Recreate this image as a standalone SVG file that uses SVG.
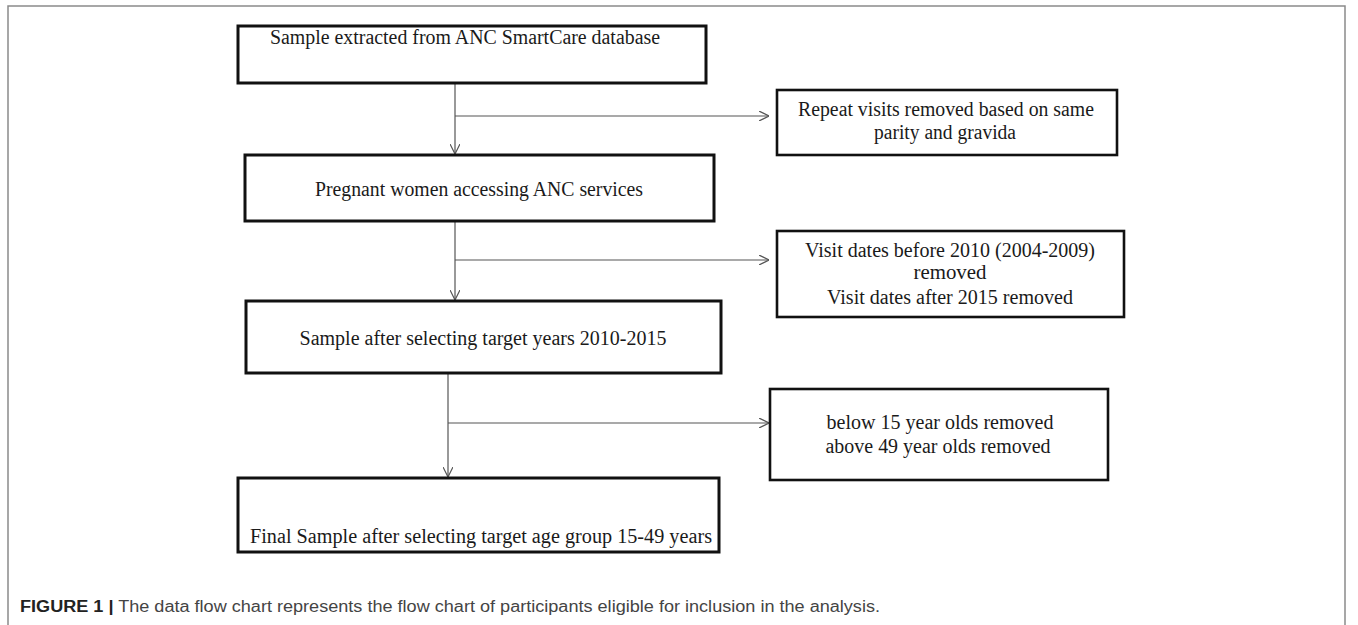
<svg xmlns="http://www.w3.org/2000/svg" width="1358" height="625" viewBox="0 0 1358 625">
<defs>
<style>
.frame{fill:none;stroke:#8a8a8a;stroke-width:1.5}
.box{fill:#fff;stroke:#111;stroke-width:3}
.sbox{fill:#fff;stroke:#111;stroke-width:2.6}
.t{font-family:"Liberation Serif","Times New Roman",serif;font-size:20px;fill:#1a1a1a;text-anchor:middle}
.conn{fill:none;stroke:#555;stroke-width:1.2}
.cap{font-family:"Liberation Sans",Arial,sans-serif;font-size:16px;fill:#444}
</style>
<marker id="ah" viewBox="0 0 10 10" refX="10" refY="5" markerWidth="10" markerHeight="10" markerUnits="userSpaceOnUse" orient="auto">
<path d="M0,0 L10,5 L0,10" fill="none" stroke="#555" stroke-width="1.2"/>
</marker>
</defs>
<rect width="1358" height="625" fill="#fff"/>
<path class="frame" d="M8,630 V6 H1345 V630"/>

<g id="connectors">
<path class="conn" d="M455,83 V154" marker-end="url(#ah)"/>
<path class="conn" d="M455,116 H769" marker-end="url(#ah)"/>
<path class="conn" d="M455,221 V300" marker-end="url(#ah)"/>
<path class="conn" d="M455,260 H769" marker-end="url(#ah)"/>
<path class="conn" d="M448,373 V477" marker-end="url(#ah)"/>
<path class="conn" d="M448,423 H769" marker-end="url(#ah)"/>
</g>

<g id="n1">
<rect class="box" x="238" y="26" width="468" height="57"/>
<text class="t" x="465" y="44" textLength="390" lengthAdjust="spacingAndGlyphs">Sample extracted from ANC SmartCare database</text>
</g>
<g id="n2">
<rect class="box" x="245" y="155" width="469" height="66"/>
<text class="t" x="479" y="196" textLength="328" lengthAdjust="spacingAndGlyphs">Pregnant women accessing ANC services</text>
</g>
<g id="n3">
<rect class="box" x="246" y="301" width="475" height="72"/>
<text class="t" x="483" y="345" textLength="367" lengthAdjust="spacingAndGlyphs">Sample after selecting target years 2010-2015</text>
</g>
<g id="n4">
<rect class="box" x="238" y="478" width="481" height="74"/>
<text class="t" x="481" y="543" textLength="462" lengthAdjust="spacingAndGlyphs">Final Sample  after selecting target age group 15-49 years</text>
</g>

<g id="r1">
<rect class="sbox" x="777" y="90" width="340" height="65"/>
<text class="t" x="946" y="116" textLength="296" lengthAdjust="spacingAndGlyphs">Repeat visits removed based on same</text>
<text class="t" x="945" y="139" textLength="142" lengthAdjust="spacingAndGlyphs">parity and gravida</text>
</g>
<g id="r2">
<rect class="sbox" x="777" y="231" width="347" height="86"/>
<text class="t" x="950" y="257" textLength="290" lengthAdjust="spacingAndGlyphs">Visit dates before 2010 (2004-2009)</text>
<text class="t" x="950" y="279" textLength="73" lengthAdjust="spacingAndGlyphs">removed</text>
<text class="t" x="950" y="304" textLength="246" lengthAdjust="spacingAndGlyphs">Visit dates after 2015 removed</text>
</g>
<g id="r3">
<rect class="sbox" x="770" y="389" width="338" height="91"/>
<text class="t" x="940" y="429" textLength="227" lengthAdjust="spacingAndGlyphs">below 15 year olds removed</text>
<text class="t" x="938" y="453" textLength="225" lengthAdjust="spacingAndGlyphs">above 49 year olds removed</text>
</g>

<text class="cap" x="20" y="612" textLength="860" lengthAdjust="spacingAndGlyphs"><tspan font-weight="bold" fill="#222">FIGURE 1 |</tspan> The data flow chart represents the flow chart of participants eligible for inclusion in the analysis.</text>
</svg>
